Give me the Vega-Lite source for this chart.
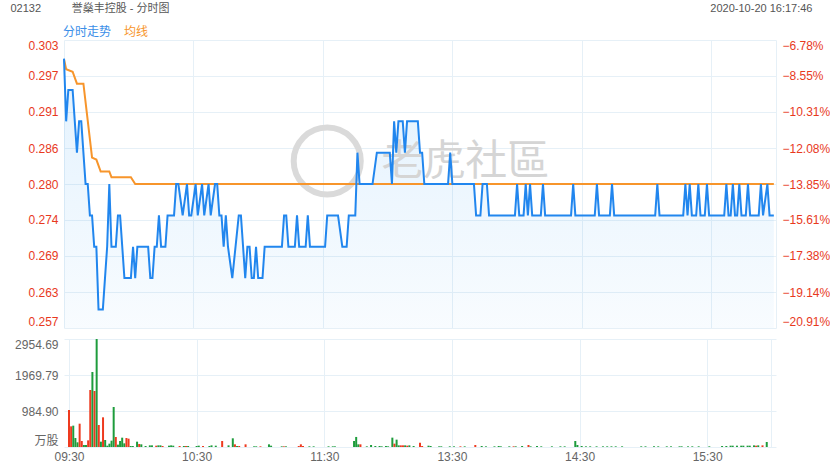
{
  "$schema": "https://vega.github.io/schema/vega-lite/v6.json",
  "background": "#ffffff",
  "padding": {"left": 10, "top": 2, "right": 0, "bottom": 0},
  "config": {
    "font": "Liberation Sans, Noto Sans CJK SC, sans-serif",
    "view": {"stroke": null},
    "axis": {"domain": false, "ticks": false, "gridColor": "#e6f0f7", "gridWidth": 1, "labelFontSize": 12, "labelFont": "Liberation Sans, Noto Sans CJK SC, sans-serif", "zindex": 0}
  },
  "datasets": {
    "tick": [{"m":0,"p":0.300},{"m":1,"p":0.290},{"m":2,"p":0.295},{"m":4,"p":0.295},{"m":6,"p":0.285},{"m":7,"p":0.290},{"m":8,"p":0.290},{"m":10,"p":0.280},{"m":11,"p":0.280},{"m":12,"p":0.275},{"m":13,"p":0.275},{"m":14,"p":0.270},{"m":15,"p":0.270},{"m":16,"p":0.260},{"m":18,"p":0.260},{"m":19,"p":0.265},{"m":20,"p":0.270},{"m":21,"p":0.280},{"m":22,"p":0.270},{"m":24,"p":0.270},{"m":25,"p":0.275},{"m":26,"p":0.275},{"m":28,"p":0.265},{"m":31,"p":0.265},{"m":32,"p":0.270},{"m":33,"p":0.265},{"m":34,"p":0.270},{"m":39,"p":0.270},{"m":40,"p":0.265},{"m":41,"p":0.265},{"m":42,"p":0.270},{"m":43,"p":0.270},{"m":44,"p":0.275},{"m":45,"p":0.270},{"m":47,"p":0.270},{"m":48,"p":0.275},{"m":51,"p":0.275},{"m":52,"p":0.280},{"m":53,"p":0.280},{"m":55,"p":0.275},{"m":57,"p":0.280},{"m":58,"p":0.275},{"m":59,"p":0.275},{"m":61,"p":0.280},{"m":62,"p":0.275},{"m":64,"p":0.280},{"m":65,"p":0.275},{"m":67,"p":0.280},{"m":68,"p":0.275},{"m":70,"p":0.280},{"m":71,"p":0.280},{"m":72,"p":0.275},{"m":73,"p":0.275},{"m":74,"p":0.270},{"m":75,"p":0.275},{"m":76,"p":0.270},{"m":78,"p":0.265},{"m":81,"p":0.275},{"m":82,"p":0.275},{"m":83,"p":0.270},{"m":84,"p":0.265},{"m":85,"p":0.270},{"m":86,"p":0.270},{"m":87,"p":0.265},{"m":88,"p":0.265},{"m":89,"p":0.270},{"m":90,"p":0.265},{"m":92,"p":0.265},{"m":93,"p":0.270},{"m":101,"p":0.270},{"m":102,"p":0.275},{"m":103,"p":0.275},{"m":104,"p":0.270},{"m":107,"p":0.270},{"m":108,"p":0.275},{"m":109,"p":0.270},{"m":112,"p":0.270},{"m":113,"p":0.275},{"m":114,"p":0.270},{"m":121,"p":0.270},{"m":122,"p":0.275},{"m":127,"p":0.275},{"m":129,"p":0.270},{"m":131,"p":0.270},{"m":132,"p":0.275},{"m":135,"p":0.275},{"m":136,"p":0.285},{"m":137,"p":0.280},{"m":143,"p":0.280},{"m":145,"p":0.285},{"m":151,"p":0.285},{"m":152,"p":0.280},{"m":153,"p":0.290},{"m":154,"p":0.285},{"m":155,"p":0.290},{"m":157,"p":0.290},{"m":158,"p":0.285},{"m":159,"p":0.290},{"m":164,"p":0.290},{"m":165,"p":0.285},{"m":166,"p":0.285},{"m":167,"p":0.280},{"m":178,"p":0.280},{"m":179,"p":0.285},{"m":180,"p":0.280},{"m":190,"p":0.280},{"m":191,"p":0.275},{"m":193,"p":0.275},{"m":194,"p":0.280},{"m":196,"p":0.280},{"m":197,"p":0.275},{"m":209,"p":0.275},{"m":210,"p":0.280},{"m":211,"p":0.275},{"m":213,"p":0.275},{"m":214,"p":0.280},{"m":215,"p":0.275},{"m":216,"p":0.280},{"m":217,"p":0.275},{"m":221,"p":0.275},{"m":222,"p":0.280},{"m":223,"p":0.275},{"m":235,"p":0.275},{"m":236,"p":0.280},{"m":237,"p":0.275},{"m":246,"p":0.275},{"m":247,"p":0.280},{"m":248,"p":0.275},{"m":253,"p":0.275},{"m":254,"p":0.280},{"m":255,"p":0.275},{"m":274,"p":0.275},{"m":275,"p":0.280},{"m":276,"p":0.275},{"m":287,"p":0.275},{"m":288,"p":0.280},{"m":289,"p":0.275},{"m":290,"p":0.280},{"m":291,"p":0.275},{"m":293,"p":0.275},{"m":294,"p":0.280},{"m":295,"p":0.275},{"m":297,"p":0.275},{"m":298,"p":0.280},{"m":299,"p":0.275},{"m":306,"p":0.275},{"m":307,"p":0.280},{"m":308,"p":0.275},{"m":309,"p":0.275},{"m":310,"p":0.280},{"m":311,"p":0.275},{"m":312,"p":0.275},{"m":313,"p":0.280},{"m":314,"p":0.275},{"m":316,"p":0.275},{"m":317,"p":0.280},{"m":318,"p":0.275},{"m":322,"p":0.275},{"m":323,"p":0.280},{"m":324,"p":0.275},{"m":326,"p":0.280},{"m":327,"p":0.275},{"m":329,"p":0.275}],
    "avg": [{"m":0,"a":0.2999},{"m":1,"a":0.2983},{"m":4,"a":0.2979},{"m":6,"a":0.2960},{"m":9,"a":0.2960},{"m":13,"a":0.2842},{"m":15,"a":0.2839},{"m":17,"a":0.2820},{"m":21,"a":0.2820},{"m":22,"a":0.2811},{"m":31,"a":0.2811},{"m":33,"a":0.2800},{"m":329,"a":0.2800}],
    "vol": [{"m":0,"v":1010,"d":"r"},{"m":1,"v":565,"d":"r"},{"m":2,"v":584,"d":"g"},{"m":3,"v":246,"d":"g"},{"m":4,"v":128,"d":"g"},{"m":5,"v":638,"d":"r"},{"m":6,"v":164,"d":"r"},{"m":7,"v":55,"d":"g"},{"m":8,"v":55,"d":"g"},{"m":9,"v":182,"d":"r"},{"m":10,"v":1560,"d":"r"},{"m":11,"v":2052,"d":"g"},{"m":12,"v":1532,"d":"r"},{"m":13,"v":2954,"d":"g"},{"m":14,"v":602,"d":"r"},{"m":15,"v":146,"d":"g"},{"m":16,"v":812,"d":"r"},{"m":17,"v":191,"d":"g"},{"m":18,"v":36,"d":"g"},{"m":19,"v":91,"d":"g"},{"m":20,"v":173,"d":"g"},{"m":21,"v":1094,"d":"g"},{"m":22,"v":274,"d":"r"},{"m":23,"v":64,"d":"g"},{"m":24,"v":164,"d":"g"},{"m":25,"v":255,"d":"g"},{"m":26,"v":100,"d":"g"},{"m":27,"v":246,"d":"r"},{"m":28,"v":228,"d":"r"},{"m":29,"v":27,"d":"g"},{"m":30,"v":27,"d":"g"},{"m":32,"v":146,"d":"g"},{"m":33,"v":82,"d":"r"},{"m":34,"v":73,"d":"g"},{"m":36,"v":27,"d":"g"},{"m":38,"v":45,"d":"g"},{"m":39,"v":45,"d":"g"},{"m":41,"v":36,"d":"r"},{"m":42,"v":45,"d":"g"},{"m":43,"v":45,"d":"g"},{"m":44,"v":27,"d":"r"},{"m":47,"v":36,"d":"g"},{"m":48,"v":45,"d":"g"},{"m":49,"v":36,"d":"g"},{"m":52,"v":27,"d":"r"},{"m":54,"v":27,"d":"g"},{"m":55,"v":27,"d":"r"},{"m":56,"v":27,"d":"g"},{"m":60,"v":27,"d":"g"},{"m":61,"v":36,"d":"g"},{"m":63,"v":27,"d":"r"},{"m":66,"v":27,"d":"g"},{"m":67,"v":45,"d":"g"},{"m":69,"v":36,"d":"g"},{"m":72,"v":165,"d":"r"},{"m":75,"v":45,"d":"g"},{"m":77,"v":238,"d":"g"},{"m":78,"v":73,"d":"r"},{"m":79,"v":27,"d":"g"},{"m":80,"v":27,"d":"r"},{"m":83,"v":73,"d":"r"},{"m":87,"v":18,"d":"g"},{"m":88,"v":18,"d":"g"},{"m":90,"v":18,"d":"r"},{"m":94,"v":73,"d":"g"},{"m":95,"v":36,"d":"g"},{"m":100,"v":18,"d":"g"},{"m":101,"v":18,"d":"r"},{"m":102,"v":18,"d":"g"},{"m":108,"v":27,"d":"r"},{"m":109,"v":73,"d":"r"},{"m":110,"v":27,"d":"r"},{"m":113,"v":18,"d":"g"},{"m":115,"v":18,"d":"g"},{"m":122,"v":18,"d":"g"},{"m":124,"v":18,"d":"g"},{"m":125,"v":18,"d":"g"},{"m":134,"v":165,"d":"g"},{"m":135,"v":275,"d":"g"},{"m":136,"v":73,"d":"g"},{"m":137,"v":73,"d":"r"},{"m":140,"v":18,"d":"g"},{"m":142,"v":55,"d":"g"},{"m":144,"v":27,"d":"g"},{"m":146,"v":27,"d":"g"},{"m":147,"v":18,"d":"g"},{"m":149,"v":27,"d":"g"},{"m":150,"v":18,"d":"g"},{"m":152,"v":256,"d":"g"},{"m":153,"v":91,"d":"r"},{"m":154,"v":201,"d":"g"},{"m":155,"v":45,"d":"g"},{"m":156,"v":45,"d":"r"},{"m":157,"v":45,"d":"r"},{"m":158,"v":45,"d":"g"},{"m":159,"v":36,"d":"r"},{"m":160,"v":45,"d":"g"},{"m":162,"v":27,"d":"g"},{"m":165,"v":119,"d":"r"},{"m":166,"v":27,"d":"r"},{"m":169,"v":36,"d":"g"},{"m":170,"v":27,"d":"g"},{"m":174,"v":18,"d":"g"},{"m":175,"v":18,"d":"g"},{"m":179,"v":18,"d":"g"},{"m":181,"v":18,"d":"g"},{"m":184,"v":18,"d":"r"},{"m":186,"v":18,"d":"g"},{"m":191,"v":55,"d":"r"},{"m":194,"v":27,"d":"g"},{"m":196,"v":18,"d":"g"},{"m":200,"v":18,"d":"g"},{"m":202,"v":27,"d":"g"},{"m":203,"v":18,"d":"g"},{"m":207,"v":18,"d":"g"},{"m":209,"v":18,"d":"r"},{"m":210,"v":18,"d":"g"},{"m":213,"v":27,"d":"g"},{"m":216,"v":55,"d":"r"},{"m":217,"v":18,"d":"g"},{"m":220,"v":27,"d":"g"},{"m":222,"v":18,"d":"g"},{"m":227,"v":18,"d":"g"},{"m":231,"v":18,"d":"g"},{"m":233,"v":18,"d":"g"},{"m":238,"v":165,"d":"g"},{"m":239,"v":55,"d":"g"},{"m":241,"v":27,"d":"g"},{"m":243,"v":18,"d":"g"},{"m":245,"v":18,"d":"g"},{"m":248,"v":18,"d":"g"},{"m":251,"v":18,"d":"g"},{"m":253,"v":18,"d":"g"},{"m":255,"v":18,"d":"g"},{"m":257,"v":18,"d":"g"},{"m":260,"v":18,"d":"g"},{"m":269,"v":18,"d":"g"},{"m":271,"v":18,"d":"g"},{"m":275,"v":18,"d":"g"},{"m":277,"v":18,"d":"g"},{"m":281,"v":18,"d":"g"},{"m":283,"v":18,"d":"g"},{"m":287,"v":18,"d":"g"},{"m":288,"v":18,"d":"g"},{"m":291,"v":18,"d":"g"},{"m":293,"v":18,"d":"g"},{"m":296,"v":18,"d":"g"},{"m":301,"v":18,"d":"g"},{"m":307,"v":27,"d":"g"},{"m":309,"v":27,"d":"g"},{"m":311,"v":36,"d":"g"},{"m":312,"v":36,"d":"g"},{"m":314,"v":36,"d":"g"},{"m":316,"v":36,"d":"g"},{"m":317,"v":36,"d":"g"},{"m":319,"v":36,"d":"g"},{"m":320,"v":36,"d":"g"},{"m":322,"v":45,"d":"g"},{"m":323,"v":36,"d":"r"},{"m":324,"v":45,"d":"g"},{"m":326,"v":45,"d":"r"},{"m":328,"v":137,"d":"g"}]
  },
  "spacing": 10,
  "vconcat": [
    {
      "width": 712,
      "height": 288,
      "resolve": {"axis": {"y": "independent"}},
      "layer": [
        {
          "data": {"name": "tick"},
          "mark": {"type": "area", "interpolate": "linear", "color": {"gradient": "linear", "x1": 0, "y1": 0, "x2": 0, "y2": 1, "stops": [{"offset": 0, "color": "rgba(33,150,243,0.13)"}, {"offset": 1, "color": "rgba(33,150,243,0.03)"}]}},
          "encoding": {
            "x": {"field": "m", "type": "quantitative", "scale": {"domain": [0, 330], "nice": false, "zero": false}, "axis": {"values": [0, 60, 120, 180, 240, 300, 330], "labels": false, "grid": true, "title": null}},
            "y": {"field": "p", "type": "quantitative", "scale": {"domain": [0.2570425, 0.302965], "nice": false, "zero": false}, "axis": null},
            "y2": {"datum": 0.2570425}
          }
        },
        {
          "data": {"values": [{}]},
          "mark": {"type": "point", "shape": "circle", "size": 4500, "filled": false, "stroke": "#dadada", "strokeWidth": 6, "opacity": 1},
          "encoding": {
            "x": {"datum": 122, "type": "quantitative"},
            "y": {"datum": 0.28367, "type": "quantitative", "axis": null}
          }
        },
        {
          "data": {"values": [{}]},
          "mark": {"type": "text", "text": "老虎社區", "font": "Noto Sans CJK TC", "fontSize": 42, "color": "#d5d5d5", "align": "center", "baseline": "middle"},
          "encoding": {
            "x": {"datum": 186, "type": "quantitative"},
            "y": {"datum": 0.2835, "type": "quantitative", "axis": null}
          }
        },
        {
          "data": {"name": "avg"},
          "mark": {"type": "line", "strokeWidth": 2, "interpolate": "linear"},
          "encoding": {
            "x": {"field": "m", "type": "quantitative"},
            "y": {"field": "a", "type": "quantitative", "axis": {"orient": "right", "values": [0.2570425, 0.26278281, 0.26852313, 0.27426344, 0.28000375, 0.28574406, 0.29148438, 0.29722469, 0.302965], "labelExpr": "format((datum.value/0.325-1)*100-0.0001, '.2f') + '%'", "labelColor": "#e8391d", "labelFlush": true, "grid": false, "labelPadding": 6, "title": "2020-10-20 16:17:46", "titleAngle": 0, "titleAlign": "right", "titleBaseline": "middle", "titleX": 36, "titleY": -32, "titleFontSize": 11, "titleFontWeight": "normal", "titleColor": "#555555", "titleFont": "Liberation Sans"}},
            "color": {"datum": "均线"}
          }
        },
        {
          "data": {"name": "tick"},
          "mark": {"type": "line", "strokeWidth": 2, "interpolate": "linear"},
          "encoding": {
            "x": {"field": "m", "type": "quantitative"},
            "y": {"field": "p", "type": "quantitative", "axis": {"orient": "left", "values": [0.2570425, 0.26278281, 0.26852313, 0.27426344, 0.28000375, 0.28574406, 0.29148438, 0.29722469, 0.302965], "format": ".3f", "labelColor": "#e8391d", "labelFlush": true, "grid": true, "labelPadding": 6, "title": "02132\u00a0\u00a0\u00a0\u00a0\u00a0\u00a0\u00a0\u00a0\u00a0\u00a0誉燊丰控股 - 分时图", "titleAngle": 0, "titleAlign": "left", "titleBaseline": "middle", "titleX": -54, "titleY": -32, "titleFontSize": 11, "titleFontWeight": "normal", "titleColor": "#555555", "titleFont": "Liberation Sans, Noto Sans CJK SC"}},
            "color": {"datum": "分时走势", "scale": {"domain": ["分时走势", "均线"], "range": ["#2186ee", "#f7952b"]}, "legend": {"orient": "none", "legendX": -13, "legendY": -14, "direction": "horizontal", "title": null, "symbolSize": 0, "symbolOpacity": 0, "symbolStrokeWidth": 0, "labelOffset": 0, "columnPadding": 0, "labelFontSize": 12, "labelFont": "Noto Sans CJK SC", "encode": {"labels": {"update": {"fill": {"signal": "datum.value === '均线' ? '#f7952b' : '#3a8ee8'"}}}}}}
          }
        }
      ]
    },
    {
      "width": 712,
      "height": 108,
      "data": {"name": "vol"},
      "mark": {"type": "bar", "size": 2},
      "encoding": {
        "x": {"field": "m", "type": "quantitative", "scale": {"domain": [0, 330], "nice": false, "zero": false}, "axis": {"values": [0, 60, 120, 180, 240, 300, 330], "labelExpr": "datum.value == 0 ? '09:30' : datum.value == 60 ? '10:30' : datum.value == 120 ? '11:30' : datum.value == 180 ? '13:30' : datum.value == 240 ? '14:30' : datum.value == 300 ? '15:30' : ''", "labelFlush": true, "labelColor": "#666666", "labelPadding": 4, "grid": true, "title": null}},
        "y": {"field": "v", "type": "quantitative", "scale": {"domain": [0, 2954.69], "nice": false}, "axis": {"values": [0, 984.897, 1969.793, 2954.69], "labelExpr": "datum.value == 0 ? '万股' : format(datum.value, '.2f')", "labelFlush": true, "labelColor": "#666666", "labelPadding": 6, "grid": true, "title": null}},
        "color": {"condition": {"test": "datum.d == 'r'", "value": "#ee3a1f"}, "value": "#1e9c3c"}
      }
    }
  ]
}
